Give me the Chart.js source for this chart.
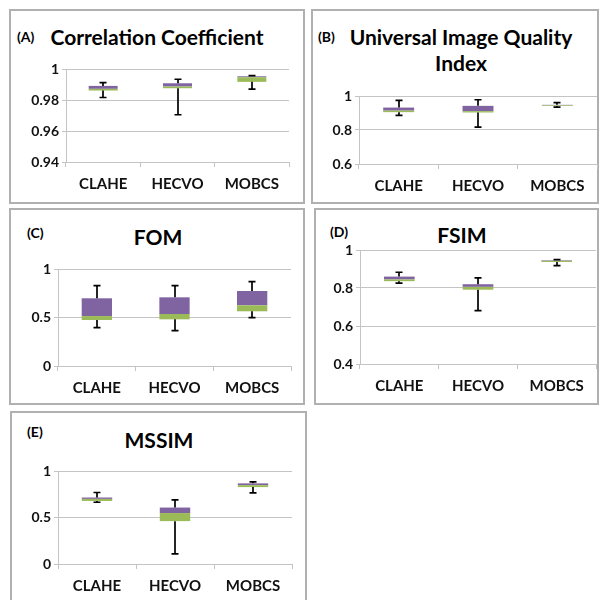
<!DOCTYPE html>
<html>
<head>
<meta charset="utf-8">
<script src="https://cdn.jsdelivr.net/npm/chart.js@4.4.0/dist/chart.umd.min.js"></script>
<style>
body { margin: 0; background: #fff; width: 600px; height: 600px; position: relative; overflow: hidden; font-family: Lato, "DejaVu Sans", sans-serif; color: #000; }
.panel { position: absolute; border: 2px solid #b0b0b0; box-sizing: border-box; }
.lbl { position: absolute; font-weight: bold; font-size: 14px; line-height: 16px; white-space: nowrap; }
.ttl { position: absolute; font-weight: bold; font-size: 21px; line-height: 26px; white-space: nowrap; text-align: center; width: 300px; }
canvas { position: absolute; }
</style>
</head>
<body>

<div class="panel" style="left:9px;top:9px;width:296px;height:195px"></div>
<div class="panel" style="left:311px;top:9px;width:288px;height:195px"></div>
<div class="panel" style="left:9px;top:208px;width:296px;height:197px"></div>
<div class="panel" style="left:314px;top:208px;width:285px;height:197px"></div>
<div class="panel" style="left:10px;top:411px;width:297px;height:195px"></div>

<div class="lbl" style="left:17px;top:29px">(A)</div>
<div class="ttl" style="left:7px;top:24px">Correlation Coefficient</div>
<div class="lbl" style="left:318px;top:29px">(B)</div>
<div class="ttl" style="left:311px;top:24px">Universal Image Quality<br>Index</div>
<div class="lbl" style="left:27px;top:225px">(C)</div>
<div class="ttl" style="left:8px;top:224px">FOM</div>
<div class="lbl" style="left:330px;top:224px">(D)</div>
<div class="ttl" style="left:312px;top:222px">FSIM</div>
<div class="lbl" style="left:27px;top:424px">(E)</div>
<div class="ttl" style="left:9px;top:427px">MSSIM</div>

<canvas id="cA" style="left:12px;top:52px" width="290" height="149"></canvas>
<canvas id="cB" style="left:314px;top:80px" width="284" height="121"></canvas>
<canvas id="cC" style="left:12px;top:252px" width="290" height="150"></canvas>
<canvas id="cD" style="left:316px;top:235px" width="282" height="167"></canvas>
<canvas id="cE" style="left:13px;top:455px" width="292" height="145"></canvas>

<script>
var categories = ['CLAHE', 'HECVO', 'MOBCS'];

// (A) Correlation Coefficient
var ccLow  = [0.9816, 0.9705, 0.9870];
var ccQ1   = [0.9861, 0.9876, 0.9917];
var ccMed  = [0.9872, 0.9887, 0.9947];
var ccQ3   = [0.9891, 0.9908, 0.9953];
var ccHigh = [0.9912, 0.9934, 0.9957];
var ccTicks = [0.94, 0.96, 0.98, 1];

// (B) Universal Image Quality Index
var uiqiLow  = [0.886, 0.817, 0.935];
var uiqiQ1   = [0.905, 0.903, 0.941];
var uiqiMed  = [0.914, 0.911, 0.945];
var uiqiQ3   = [0.932, 0.942, 0.948];
var uiqiHigh = [0.974, 0.978, 0.961];
var uiqiTicks = [0.6, 0.8, 1];

// (C) FOM
var fomLow  = [0.395, 0.364, 0.498];
var fomQ1   = [0.474, 0.481, 0.564];
var fomMed  = [0.515, 0.536, 0.626];
var fomQ3   = [0.698, 0.708, 0.773];
var fomHigh = [0.828, 0.828, 0.869];
var fomTicks = [0, 0.5, 1];

// (D) FSIM
var fsimLow  = [0.826, 0.681, 0.918];
var fsimQ1   = [0.836, 0.791, 0.937];
var fsimMed  = [0.845, 0.806, 0.943];
var fsimQ3   = [0.860, 0.820, 0.946];
var fsimHigh = [0.883, 0.853, 0.949];
var fsimTicks = [0.4, 0.6, 0.8, 1];

// (E) MSSIM
var msLow  = [0.664, 0.108, 0.765];
var msQ1   = [0.678, 0.461, 0.827];
var msMed  = [0.700, 0.548, 0.848];
var msQ3   = [0.715, 0.607, 0.867];
var msHigh = [0.769, 0.689, 0.884];
var msTicks = [0, 0.5, 1];

var gridColor = '#c4c4c4';
var yFont = { family: 'Lato', weight: 'bold', size: 14 };
var xFont = { family: 'Lato', weight: 'bold', size: 15 };

// whiskers: line from Q3 up to max and from Q1 down to min, with caps
function whiskerPlugin(low, q1, q3, high) {
    return {
        id: 'whiskers',
        afterDatasetsDraw: function (chart) {
            var ctx = chart.ctx, xs = chart.scales.x, ys = chart.scales.y;
            ctx.save();
            ctx.strokeStyle = '#000';
            ctx.lineWidth = 1.7;
            for (var i = 0; i < low.length; i++) {
                var x = Math.round(xs.getPixelForValue(i));
                var yHigh = ys.getPixelForValue(high[i]);
                var yQ3 = ys.getPixelForValue(q3[i]);
                var yQ1 = ys.getPixelForValue(q1[i]);
                var yLow = ys.getPixelForValue(low[i]);
                ctx.beginPath();
                ctx.moveTo(x, yHigh); ctx.lineTo(x, yQ3);
                ctx.moveTo(x, yQ1); ctx.lineTo(x, yLow);
                ctx.moveTo(x - 3.5, yHigh); ctx.lineTo(x + 3.5, yHigh);
                ctx.moveTo(x - 3.5, yLow); ctx.lineTo(x + 3.5, yLow);
                ctx.stroke();
            }
            ctx.restore();
        }
    };
}

function boxChart(id, low, q1, med, q3, high, ticks, yWidth, xHeight, padTop, padRight) {
    var ctx = document.getElementById(id).getContext('2d');
    return new Chart(ctx, {
        type: 'bar',
        data: {
            labels: categories,
            datasets: [{
                data: q1.map(function (v, i) { return [v, med[i]]; }),
                backgroundColor: '#9bbb59'
            }, {
                data: med.map(function (v, i) { return [v, q3[i]]; }),
                backgroundColor: '#8064a2'
            }]
        },
        options: {
            responsive: false,
            animation: false,
            layout: { padding: { top: padTop, right: padRight, left: 0, bottom: 0 } },
            datasets: { bar: { categoryPercentage: 1, barPercentage: 0.39 } },
            plugins: { legend: { display: false }, tooltip: { enabled: false } },
            scales: {
                x: {
                    stacked: true,
                    grid: { drawOnChartArea: false, offset: true, color: gridColor, tickLength: 5 },
                    border: { color: gridColor },
                    ticks: { font: xFont, color: '#111', padding: 8, maxRotation: 0 },
                    afterFit: function (s) { s.height = xHeight; }
                },
                y: {
                    stacked: false,
                    min: ticks[0],
                    max: ticks[ticks.length - 1],
                    afterBuildTicks: function (s) {
                        s.ticks = ticks.map(function (v) { return { value: v }; });
                    },
                    grid: { color: gridColor, tickLength: 4 },
                    border: { color: gridColor },
                    ticks: {
                        font: yFont, color: '#111', padding: 3,
                        callback: function (v) { return String(Math.round(v * 100) / 100); }
                    },
                    afterFit: function (s) { s.width = yWidth; }
                }
            }
        },
        plugins: [whiskerPlugin(low, q1, q3, high)]
    });
}

boxChart('cA', ccLow, ccQ1, ccMed, ccQ3, ccHigh, ccTicks, 54, 39, 17, 13);
boxChart('cB', uiqiLow, uiqiQ1, uiqiMed, uiqiQ3, uiqiHigh, uiqiTicks, 45, 37, 16, 1);
boxChart('cC', fomLow, fomQ1, fomMed, fomQ3, fomHigh, fomTicks, 46, 36, 17, 11);
boxChart('cD', fsimLow, fsimQ1, fsimMed, fsimQ3, fsimHigh, fsimTicks, 44, 38, 15, 2);
boxChart('cE', msLow, msQ1, msMed, msQ3, msHigh, msTicks, 45, 36, 16, 13);
</script>
</body>
</html>
